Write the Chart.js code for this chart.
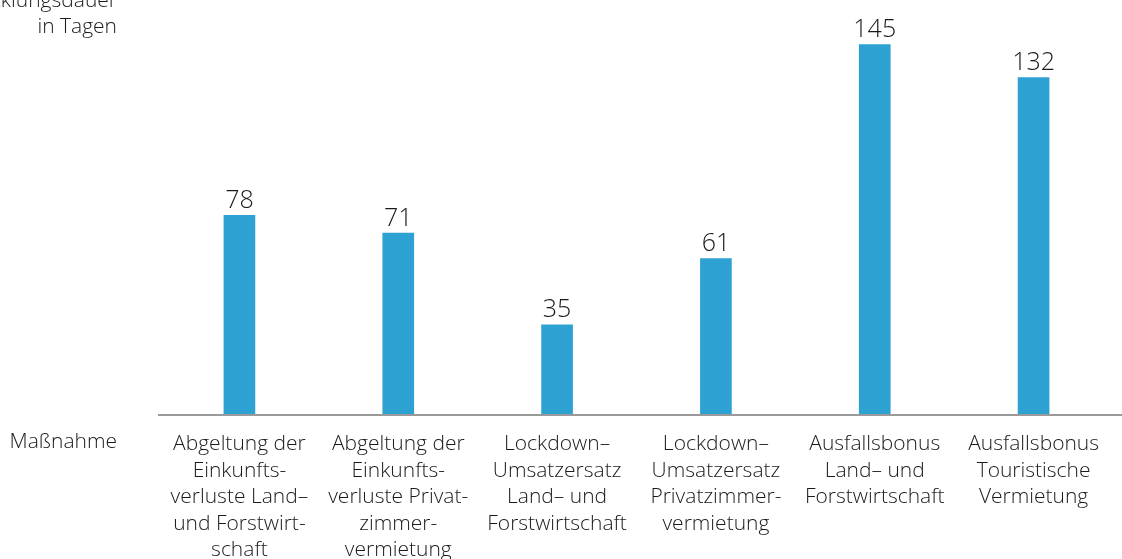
<!DOCTYPE html>
<html>
<head>
<meta charset="utf-8">
<script src="https://cdn.jsdelivr.net/npm/chart.js@4"></script>
<style>
  html, body { margin: 0; padding: 0; background: #fff; }
  #wrap { width: 1122px; height: 559px; position: relative; }
</style>
</head>
<body>
<div id="wrap"><canvas id="chart"></canvas></div>
<script>
// Abwicklungsdauer je Maßnahme (in Tagen)
const CATEGORIES = [
  ["Abgeltung der", "Einkunfts-", "verluste Land–", "und Forstwirt-", "schaft"],
  ["Abgeltung der", "Einkunfts-", "verluste Privat-", "zimmer-", "vermietung"],
  ["Lockdown–", "Umsatzersatz", "Land– und", "Forstwirtschaft"],
  ["Lockdown–", "Umsatzersatz", "Privatzimmer-", "vermietung"],
  ["Ausfallsbonus", "Land– und", "Forstwirtschaft"],
  ["Ausfallsbonus", "Touristische", "Vermietung"],
];
const DAYS = [78, 71, 35, 61, 145, 132];
const Y_TITLE = ["Abwicklungsdauer", "in Tagen"];
const X_TITLE = "Maßnahme";

const BLUE = "#2ea1d3";
const TEXT = "#1a1a1a";
const FONT = "'Open Sans', 'Noto Sans', sans-serif";

Chart.defaults.font.family = FONT;
Chart.defaults.font.weight = "300";
Chart.defaults.color = TEXT;

// value labels, axis line and the two side titles
const decorations = {
  id: "decorations",
  afterDatasetsDraw(chart) {
    const { ctx, chartArea } = chart;
    const meta = chart.getDatasetMeta(0);
    ctx.save();
    ctx.fillStyle = TEXT;
    ctx.font = `300 25px ${FONT}`;
    ctx.textAlign = "center";
    ctx.textBaseline = "bottom";
    meta.data.forEach((bar, i) => {
      ctx.fillText(String(DAYS[i]), bar.x, bar.y - 2);
    });

    // baseline
    ctx.strokeStyle = "#9a9a9a";
    ctx.lineWidth = 2;
    ctx.beginPath();
    ctx.moveTo(158, chartArea.bottom + 1);
    ctx.lineTo(1122, chartArea.bottom + 1);
    ctx.stroke();

    ctx.font = `300 21px ${FONT}`;
    ctx.textAlign = "right";
    ctx.textBaseline = "middle";
    ctx.fillText(Y_TITLE[0], 117, 1);
    ctx.fillText(Y_TITLE[1], 117, 27);
    ctx.fillText(X_TITLE, 117, 442);
    ctx.restore();
  },
};

new Chart(document.getElementById("chart"), {
  type: "bar",
  data: {
    labels: CATEGORIES,
    datasets: [{
      data: DAYS,
      backgroundColor: BLUE,
      barThickness: 31,
    }],
  },
  options: {
    responsive: true,
    maintainAspectRatio: false,
    animation: false,
    layout: { padding: { top: 0, left: 160, right: 9, bottom: 0 } },
    plugins: {
      legend: { display: false },
      tooltip: { enabled: false },
    },
    scales: {
      x: {
        grid: { display: false },
        border: { display: false },
        ticks: {
          maxRotation: 0,
          autoSkip: false,
          padding: 9,
          color: TEXT,
          font: { size: 21, weight: "300", lineHeight: 1.26 },
        },
        afterFit(scale) { scale.height = 145; },
      },
      y: {
        display: false,
        min: 0,
        max: 162.5,
      },
    },
  },
  plugins: [decorations],
});
</script>
</body>
</html>
